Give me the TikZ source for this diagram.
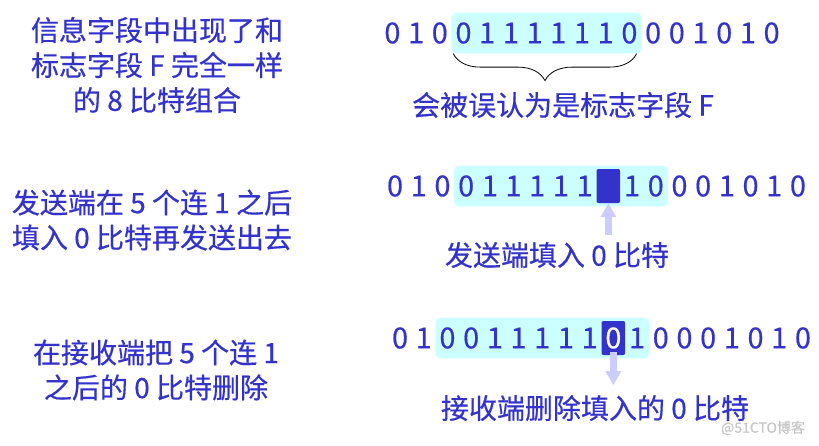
\documentclass[tikz,border=0pt]{standalone}
\usepackage{fontspec}
\setmainfont{Noto Sans CJK SC}[FakeBold=0.5]
\usepackage{xcolor}
\usepackage{tikz}
\usetikzlibrary{matrix,fit,backgrounds,positioning,decorations.pathreplacing,arrows.meta}
\definecolor{txt}{RGB}{51,51,204}
\definecolor{hl}{RGB}{204,255,255}
\definecolor{arr}{RGB}{204,204,255}

\begin{document}
\begin{tikzpicture}[x=1pt, y=-1pt, text=txt,
	bits/.style={matrix of nodes, nodes={minimum width=23.7pt, inner sep=0pt, font=\fontsize{29pt}{35pt}\selectfont}, column sep=0pt},
	markbox/.style={fill=txt, text=white, rounded corners=2pt, minimum height=34pt},
	hlbox/.style={fill=hl, rounded corners=5pt, inner xsep=0pt, inner ysep=9.5pt},
	fatarrow/.style={draw=arr, line width=7pt, -{Triangle[width=15pt, length=14pt]}},
	note/.style={align=center}]
	\fontsize{28pt}{35pt}\selectfont
	\useasboundingbox (0,0) rectangle (819,445);
	% the three bit strings
	\matrix(r1)[bits] at (582,33) {
		0 & 1 & 0 & 0 & 1 & 1 & 1 & 1 & 1 & 1 & 0 & 0 & 0 & 1 & 0 & 1 & 0 \\
	};
	\matrix(r2)[bits] at (596.5,186) {
		0 & 1 & 0 & 0 & 1 & 1 & 1 & 1 & 1 & |[markbox]|\phantom{0} & 1 & 0 & 0 & 0 & 1 & 0 & 1 & 0 \\
	};
	\matrix(r3)[bits] at (601.5,338) {
		0 & 1 & 0 & 0 & 1 & 1 & 1 & 1 & 1 & |[markbox]|0 & 1 & 0 & 0 & 0 & 1 & 0 & 1 & 0 \\
	};
	\begin{scope}[on background layer]
		\node[hlbox, fit=(r1-1-4)(r1-1-11)] (hl1) {};
		\node[hlbox, fit=(r2-1-4)(r2-1-12)] (hl2) {};
		\node[hlbox, fit=(r3-1-3)(r3-1-11)] (hl3) {};
	\end{scope}
	% brace and labels
	\draw[decorate, decoration={brace, mirror, amplitude=27pt}, black, line width=0.8pt]
		([xshift=2pt]hl1.south west) -- ([xshift=-5pt]hl1.south east);
	\node (lab1) at (563,105) {会被误认为是标志字段 F};
	\coordinate[below=32pt of r2-1-10.south] (ar2);
	\draw[fatarrow] (ar2) -- (r2-1-10.south);
	\node (lab2) at (557,255) {发送端填入 0 比特};
	\coordinate[below=30pt of r3-1-10.south] (ar3);
	\draw[fatarrow] ([yshift=3pt]r3-1-10.south) -- (ar3);
	\node (lab3) at (595,408) {接收端删除填入的 0 比特};
	% left column
	\node[note] (txt1) at (157,65) {信息字段中出现了和\\标志字段 F 完全一样\\的 8 比特组合};
	\node[note] (txt2) at (152,220) {发送端在 5 个连 1 之后\\填入 0 比特再发送出去};
	\node[note] (txt3) at (156,370) {在接收端把 5 个连 1\\之后的 0 比特删除};
	\node[text=gray!45, font=\fontsize{14pt}{16pt}\selectfont] (wm) at (763,428) {@51CTO博客};
\end{tikzpicture}
\end{document}
